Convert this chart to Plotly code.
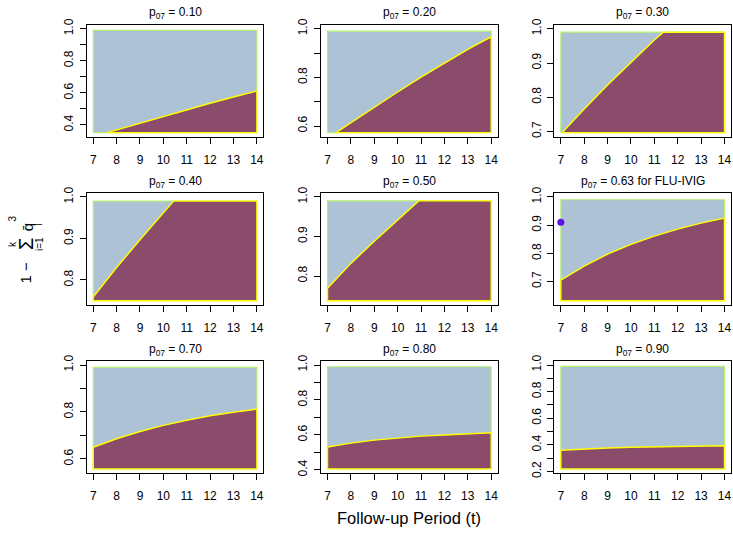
import plotly.graph_objects as go

# ---------------- data ----------------
panel_titles = [
    "p<sub>07</sub> = 0.10", "p<sub>07</sub> = 0.20", "p<sub>07</sub> = 0.30",
    "p<sub>07</sub> = 0.40", "p<sub>07</sub> = 0.50", "p<sub>07</sub> = 0.63 for FLU-IVIG",
    "p<sub>07</sub> = 0.70", "p<sub>07</sub> = 0.80", "p<sub>07</sub> = 0.90",
]

curve_t_p10 = [7.6, 8, 9, 10, 11, 12, 13, 14]
curve_y_p10 = [0.352, 0.369, 0.412, 0.454, 0.495, 0.535, 0.574, 0.612]
curve_t_p20 = [7.36, 8, 9, 10, 11, 12, 13, 14]
curve_y_p20 = [0.573, 0.614, 0.678, 0.740, 0.801, 0.859, 0.915, 0.967]
curve_t_p30 = [7.06, 8, 9, 10, 11, 11.39]
curve_y_p30 = [0.697, 0.766, 0.836, 0.903, 0.967, 0.990]
curve_t_p40 = [7, 8, 9, 10, 10.44]
curve_y_p40 = [0.759, 0.830, 0.897, 0.960, 0.990]
curve_t_p50 = [7, 8, 9, 10, 10.9]
curve_y_p50 = [0.769, 0.832, 0.888, 0.942, 0.990]
curve_t_p63 = [7, 8, 9, 10, 11, 12, 13, 14]
curve_y_p63 = [0.705, 0.755, 0.797, 0.832, 0.861, 0.886, 0.907, 0.925]
curve_t_p70 = [7, 8, 9, 10, 11, 12, 13, 14]
curve_y_p70 = [0.650, 0.686, 0.717, 0.743, 0.765, 0.784, 0.799, 0.812]
curve_t_p80 = [7, 8, 9, 10, 11, 12, 13, 14]
curve_y_p80 = [0.531, 0.553, 0.570, 0.583, 0.593, 0.600, 0.606, 0.612]
curve_t_p90 = [7, 8, 9, 10, 11, 12, 13, 14]
curve_y_p90 = [0.360, 0.370, 0.377, 0.382, 0.386, 0.389, 0.392, 0.394]

curves_t = [curve_t_p10, curve_t_p20, curve_t_p30, curve_t_p40, curve_t_p50,
            curve_t_p63, curve_t_p70, curve_t_p80, curve_t_p90]
curves_y = [curve_y_p10, curve_y_p20, curve_y_p30, curve_y_p40, curve_y_p50,
            curve_y_p63, curve_y_p70, curve_y_p80, curve_y_p90]

region_bottom = [0.352, 0.573, 0.697, 0.750, 0.7375, 0.632, 0.558, 0.406, 0.220]
region_top = 0.99
t_start, t_end = 7, 14

x_tick_vals = [7, 8, 9, 10, 11, 12, 13, 14]
y_label_vals = [
    [0.4, 0.6, 0.8, 1.0],
    [0.6, 0.8, 1.0],
    [0.7, 0.8, 0.9, 1.0],
    [0.8, 0.9, 1.0],
    [0.8, 0.9, 1.0],
    [0.7, 0.8, 0.9, 1.0],
    [0.6, 0.8, 1.0],
    [0.4, 0.6, 0.8, 1.0],
    [0.2, 0.4, 0.6, 0.8, 1.0],
]
y_minor_step = 0.1

flu_ivig_t = [7]
flu_ivig_y = [0.91]

# ---------------- styling / layout ----------------
W, H = 733, 535
FONT = "Liberation Sans, Arial, Helvetica, sans-serif"
BLUE = "#AEC2D6"
MAROON = "#8B4B6B"
YELLOW = "#FFFF00"
GREEN = "#B4F070"

# positions in screen pixels
col_left = [86.7, 321.0, 554.3]
panel_w = 176.7
row_top = [19.0, 190.7, 362.3]
panel_h = 114.5


def px_x(v):
    return v / W


def px_y(v):
    return 1 - v / H


fig = go.Figure()
layout = dict(
    width=W, height=H,
    margin=dict(l=0, r=0, t=0, b=0, pad=0),
    paper_bgcolor="white", plot_bgcolor="white",
    showlegend=False,
    font=dict(family=FONT, size=12, color="black"),
)
annotations = []

for i in range(9):
    r, c = divmod(i, 3)
    ax = "" if i == 0 else str(i + 1)
    xa, ya = "x" + ax, "y" + ax
    lo = region_bottom[i]
    ts, ys = curves_t[i], curves_y[i]

    # background region (light blue)
    fig.add_trace(go.Scatter(
        x=[t_start, t_end, t_end, t_start, t_start],
        y=[lo, lo, region_top, region_top, lo],
        mode="lines", fill="toself", fillcolor=BLUE,
        line=dict(color=GREEN, width=1.2), xaxis=xa, yaxis=ya, hoverinfo="skip"))

    # region below the curve (maroon)
    px = list(ts)
    py = list(ys)
    if ts[-1] < t_end:
        px.append(t_end)
        py.append(region_top)
    px += [t_end, ts[0], ts[0]]
    py += [lo, lo, ys[0]]
    fig.add_trace(go.Scatter(
        x=px, y=py, mode="lines", fill="toself", fillcolor=MAROON,
        line=dict(color=YELLOW, width=1.4), xaxis=xa, yaxis=ya, hoverinfo="skip"))

    if i == 5:
        fig.add_trace(go.Scatter(
            x=flu_ivig_t, y=flu_ivig_y, mode="markers",
            marker=dict(color="#5A12E6", size=7), xaxis=xa, yaxis=ya))

    x0 = px_x(col_left[c])
    x1 = px_x(col_left[c] + panel_w)
    y1 = px_y(row_top[r])
    y0 = px_y(row_top[r] + panel_h)
    pad = 0.04 * (1.0 - lo)
    common = dict(showline=True, linecolor="black", linewidth=1, mirror=True,
                  ticks="outside", ticklen=6, tickwidth=1, tickcolor="black",
                  showgrid=False, zeroline=False,
                  tickfont=dict(family=FONT, size=12, color="black"))
    layout["xaxis" + ax] = dict(
        domain=[x0, x1], anchor=ya, range=[t_start - 0.28, t_end + 0.28],
        tickvals=x_tick_vals, ticktext=[str(v) for v in x_tick_vals],
        ticklabelstandoff=6, **common)
    layout["yaxis" + ax] = dict(
        domain=[y0, y1], anchor=xa, range=[lo - pad, 1.0 + pad],
        tickvals=y_label_vals[i], ticktext=["%.1f" % v for v in y_label_vals[i]],
        tickangle=-90, ticklabelstandoff=2,
        minor=dict(dtick=y_minor_step, tick0=0, ticks="outside", ticklen=6,
                   tickwidth=1, tickcolor="black", showgrid=False),
        **common)

    annotations.append(dict(
        text=panel_titles[i], xref="paper", yref="paper",
        x=(x0 + x1) / 2, y=px_y(row_top[r] - 11.5),
        xanchor="center", yanchor="middle", showarrow=False,
        font=dict(family=FONT, size=12, color="black")))

# x-axis title
annotations.append(dict(
    text="Follow-up Period (t)", xref="paper", yref="paper",
    x=px_x((col_left[0] + col_left[2] + panel_w) / 2), y=px_y(522.5),
    xanchor="center", yanchor="middle", showarrow=False,
    font=dict(family=FONT, size=16.5, color="black")))

# y-axis title: 1 - sum_{i=1}^{k} qbar_i^3 (built from pieces, rotated)
ylab_parts = [
    ("1 \u2212", 25, 272, 15),
    ("\u03a3", 26, 243, 20),
    ("k", 12, 243, 10),
    ("i=1", 39, 243, 10),
    ("q\u0304", 27, 226, 15),
    ("3", 13, 217, 10),
    ("i", 38, 223, 10),
]
for txt, xpx, ypx, fs in ylab_parts:
    annotations.append(dict(
        text=txt, xref="paper", yref="paper", x=px_x(xpx), y=px_y(ypx),
        xanchor="center", yanchor="middle", showarrow=False, textangle=-90,
        font=dict(family=FONT, size=fs, color="black")))

layout["annotations"] = annotations
fig.update_layout(**layout)
fig.write_html(
    "out.html",
    config={"displayModeBar": False},
    post_script="document.body.style.margin='0';document.body.style.overflow='hidden';",
)
